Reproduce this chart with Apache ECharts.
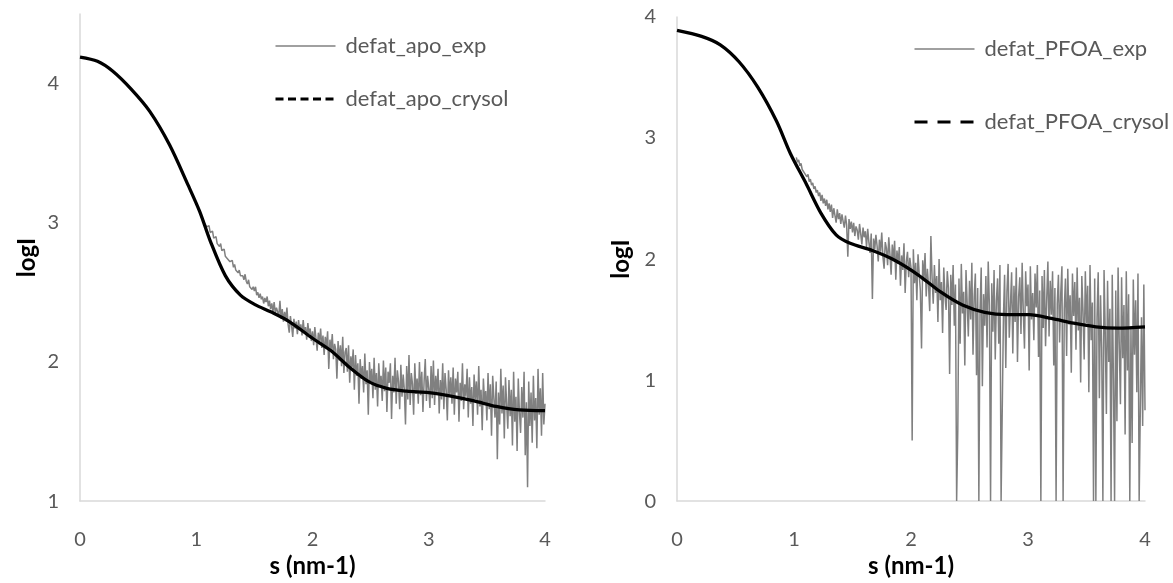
<!DOCTYPE html>
<html>
<head>
<meta charset="utf-8">
<script src="https://cdn.jsdelivr.net/npm/echarts@6/dist/echarts.min.js"></script>
<style>
html,body{margin:0;padding:0;background:#fff;}
#chart{width:1173px;height:583px;}
</style>
</head>
<body>
<div id="chart"></div>
<script>
// ---- data ----
const xTicks = [0, 1, 2, 3, 4];
const leftYTicks = [1, 2, 3, 4];
const rightYTicks = [0, 1, 2, 3, 4];

const leftNames = ['defat_apo_exp', 'defat_apo_crysol'];
const rightNames = ['defat_PFOA_exp', 'defat_PFOA_crysol'];

// crysol fits (s, logI)
const leftCrysolS = [0, 0.15, 0.28, 0.44, 0.6, 0.77, 0.93, 1.03, 1.12, 1.25, 1.38, 1.51, 1.64, 1.8, 2.0, 2.16, 2.32, 2.48, 2.64, 2.81, 3.0, 3.19, 3.39, 3.58, 3.78, 4.0];
const leftCrysolY = [4.19, 4.16, 4.09, 3.96, 3.80, 3.56, 3.27, 3.08, 2.87, 2.62, 2.48, 2.41, 2.36, 2.29, 2.17, 2.08, 1.96, 1.86, 1.81, 1.79, 1.78, 1.755, 1.72, 1.68, 1.655, 1.65];

const rightCrysolS = [0, 0.21, 0.37, 0.53, 0.69, 0.85, 0.97, 1.10, 1.23, 1.36, 1.48, 1.67, 1.86, 2.06, 2.25, 2.44, 2.63, 2.82, 3.01, 3.20, 3.39, 3.58, 3.77, 4.0];
const rightCrysolY = [3.89, 3.84, 3.77, 3.63, 3.42, 3.14, 2.87, 2.63, 2.38, 2.20, 2.13, 2.07, 1.99, 1.87, 1.73, 1.62, 1.56, 1.54, 1.54, 1.51, 1.47, 1.44, 1.43, 1.44];

// experimental curves: uniformly sampled in s
const leftExpStart = 1.03, leftExpStep = 0.01;
const leftExpY = [
3.09,3.05,3.06,3.02,3.00,3.01,2.97,
2.96,2.98,2.93,2.92,2.94,2.89,2.88,2.90,2.85,2.84,
2.83,2.85,2.80,2.79,2.81,2.76,2.77,2.74,2.75,2.72,
2.71,2.73,2.68,2.70,2.66,2.67,2.64,2.66,2.62,2.63,
2.62,2.59,2.63,2.58,2.56,2.59,2.54,2.55,2.52,2.54,
2.51,2.54,2.48,2.50,2.46,2.49,2.45,2.47,2.42,2.46,
2.43,2.47,2.40,2.44,2.38,2.42,2.36,2.43,2.35,2.39,
2.40,2.33,2.44,2.31,2.38,2.29,2.36,2.30,2.39,2.27,
2.21,2.33,2.26,2.18,2.31,2.24,2.29,2.20,2.30,2.23,
2.27,2.19,2.30,2.21,2.25,2.16,2.28,2.20,2.24,2.15,
2.22,2.12,2.25,2.17,2.08,2.21,2.14,2.24,2.10,2.19,
2.05,2.18,2.11,2.22,1.95,2.16,2.08,2.20,2.02,2.13,
2.09,1.88,2.15,2.01,2.12,1.97,2.18,1.92,2.07,2.10,
1.93,2.12,1.85,2.04,1.96,2.09,1.80,2.05,1.90,1.99,
1.70,2.02,1.88,1.97,1.78,2.06,1.84,1.94,1.62,2.00,
1.86,1.95,1.74,2.03,1.80,1.92,1.68,1.99,1.83,1.90,
1.72,2.01,1.79,1.96,1.64,1.93,1.85,1.99,1.59,1.90,
1.78,2.03,1.70,1.94,1.86,1.66,1.98,1.75,1.91,1.80,
1.55,1.97,1.73,2.05,1.69,1.92,1.84,1.62,1.99,1.77,
1.88,1.70,2.00,1.76,1.93,1.64,1.86,2.02,1.72,1.90,
1.81,1.67,1.97,1.74,2.01,1.69,1.90,1.78,1.95,1.63,
1.87,1.73,1.99,1.66,1.92,1.80,1.58,1.94,1.75,1.89,
1.70,1.96,1.62,1.88,1.78,1.93,1.57,1.85,1.72,1.99,
1.66,1.84,1.75,1.95,1.60,1.89,1.70,1.82,1.54,1.91,
1.73,1.86,1.62,1.97,1.68,1.80,1.51,1.88,1.71,1.79,
1.58,1.92,1.66,1.84,1.47,1.90,1.74,1.60,1.86,1.30,
1.78,1.55,1.95,1.63,1.83,1.45,1.89,1.70,1.52,1.87,
1.61,1.80,1.40,1.93,1.57,1.75,1.36,1.88,1.64,1.49,
1.82,1.60,1.93,1.33,1.71,1.10,1.86,1.54,1.78,1.42,
1.90,1.58,1.74,1.38,1.95,1.62,1.81,1.47,1.92,1.55,
1.70
];

const rightExpStart = 1.02, rightExpStep = 0.01;
const rightExpY = [
2.84,2.80,2.82,2.77,2.79,2.74,2.75,2.71,
2.72,2.68,2.70,2.64,2.66,2.61,2.63,2.58,2.60,2.55,
2.57,2.52,2.55,2.48,2.53,2.46,2.50,2.44,2.49,2.41,
2.46,2.39,2.45,2.34,2.42,2.36,2.30,2.41,2.33,2.38,
2.29,2.37,2.31,2.26,2.36,2.28,2.02,2.33,2.25,2.31,
2.22,2.30,2.19,2.27,2.24,2.16,2.29,2.21,2.12,2.26,
2.18,2.23,2.10,2.25,2.14,2.05,2.21,1.67,2.17,2.08,
2.20,2.11,1.98,2.16,2.06,2.22,2.02,1.92,2.14,2.09,
1.95,2.18,2.04,1.87,2.12,1.99,2.15,1.83,2.07,1.96,
2.10,1.78,2.03,1.91,2.13,1.72,1.98,2.06,1.85,2.01,
1.93,0.50,2.08,1.80,1.97,1.66,2.04,1.88,1.74,1.26,
1.99,1.83,2.05,1.69,1.92,1.78,1.57,2.19,1.85,1.63,
1.95,1.72,1.86,1.48,2.00,1.66,1.81,1.39,1.93,1.70,
1.58,1.90,1.76,1.05,1.87,1.62,1.95,1.45,1.79,0.00,
0.59,1.84,1.30,1.96,1.55,1.73,1.12,1.91,1.64,1.36,
1.82,1.50,1.97,1.21,1.69,1.88,1.04,1.76,0.00,1.58,
1.93,0.95,1.71,1.45,1.86,1.27,1.98,1.62,0.00,1.80,
1.40,1.91,1.17,1.66,1.84,1.30,1.95,0.00,0.00,1.52,
1.87,1.10,1.73,1.96,1.35,1.62,1.89,1.22,1.78,1.48,
1.93,1.15,1.69,1.85,1.38,1.97,1.56,1.26,1.90,1.61,
1.79,1.08,1.94,1.50,1.72,1.33,1.88,1.60,1.95,1.19,
1.74,0.00,1.86,1.43,1.91,1.28,1.67,1.98,1.36,1.82,
1.54,1.90,1.12,1.76,0.00,1.63,1.87,1.31,1.72,1.94,
0.00,1.59,1.84,1.20,1.92,1.46,1.70,1.06,1.88,1.53,
1.81,1.25,1.93,1.41,1.68,0.98,1.86,1.57,1.17,1.90,
1.47,1.78,0.90,1.95,1.33,1.64,0.00,1.84,0.00,1.52,
1.89,0.85,1.70,1.27,0.00,1.91,1.40,0.72,1.82,1.15,
1.59,0.00,1.87,1.02,0.00,1.74,0.66,1.93,1.30,0.80,
1.85,1.18,1.62,0.55,1.90,1.08,1.71,0.00,1.44,0.48,
1.83,1.21,1.66,0.90,1.88,0.00,0.00,1.52,0.62,1.79,
0.75
];

// ---- build series data ----
function pairs(xs, ys) { return ys.map((y, i) => [xs[i], y]); }
function sampled(start, step, ys) { return ys.map((y, i) => [+(start + i * step).toFixed(3), y]); }

const FONT = 'Lato, "Open Sans", sans-serif';
const GREY_TXT = '#595959';
const AXIS_COL = '#d9d9d9';
const EXP_COL = '#808080';

function xAxisCfg(grid) {
  return {
    gridIndex: grid, type: 'value', min: xTicks[0], max: xTicks[xTicks.length - 1], interval: 1,
    axisLine: { show: true, onZero: false, lineStyle: { color: AXIS_COL, width: 1.5 } },
    axisTick: { show: false }, splitLine: { show: false },
    axisLabel: { color: GREY_TXT, fontSize: 20, fontFamily: FONT, margin: 28 },
    name: 's (nm-1)', nameLocation: 'middle', nameGap: 52,
    nameTextStyle: { color: '#000', fontSize: 24, fontWeight: 'bold', fontFamily: FONT }
  };
}
function yAxisCfg(grid, ticks, max, gap) {
  return {
    gridIndex: grid, type: 'value', min: ticks[0], max: max, interval: 1,
    axisLine: { show: true, onZero: false, lineStyle: { color: AXIS_COL, width: 1.5 } },
    axisTick: { show: false }, splitLine: { show: false },
    axisLabel: { color: GREY_TXT, fontSize: 20, fontFamily: FONT, margin: 21, padding: [10, 0, 0, 0],
      formatter: v => (ticks.indexOf(v) >= 0 ? String(v) : '') },
    name: 'logI', nameLocation: 'middle', nameGap: gap, nameRotate: 90,
    nameTextStyle: { color: '#000', fontSize: 24, fontWeight: 'bold', fontFamily: FONT }
  };
}
const noSymbol = { opacity: 0, color: 'transparent', borderWidth: 0 };

const chart = echarts.init(document.getElementById('chart'), null, { renderer: 'canvas' });
chart.setOption({
  animation: false,
  backgroundColor: '#fff',
  grid: [
    { left: 80, top: 14, width: 465, height: 494 },
    { left: 677, top: 17, width: 468, height: 491 }
  ],
  xAxis: [xAxisCfg(0), xAxisCfg(1)],
  yAxis: [yAxisCfg(0, leftYTicks, 4.5, 41), yAxisCfg(1, rightYTicks, 4, 44)],
  legend: [
    {
      left: 269, top: 30, orient: 'vertical', itemWidth: 60, itemHeight: 14, itemGap: 31,
      textStyle: { color: GREY_TXT, fontSize: 22, fontFamily: FONT, padding: [0, 0, 0, 5] },
      data: [
        { name: leftNames[0], itemStyle: noSymbol, lineStyle: { color: EXP_COL, width: 1.3 } },
        { name: leftNames[1], itemStyle: noSymbol, lineStyle: { type: [8, 4.5], width: 3, color: '#000' } }
      ]
    },
    {
      left: 908, top: 33, orient: 'vertical', itemWidth: 60, itemHeight: 14, itemGap: 51,
      textStyle: { color: GREY_TXT, fontSize: 22, fontFamily: FONT, padding: [0, 0, 0, 5] },
      data: [
        { name: rightNames[0], itemStyle: noSymbol, lineStyle: { color: EXP_COL, width: 1.3 } },
        { name: rightNames[1], itemStyle: noSymbol, lineStyle: { type: [13, 10], width: 3, color: '#000' } }
      ]
    }
  ],
  series: [
    { name: leftNames[0], type: 'line', xAxisIndex: 0, yAxisIndex: 0, symbol: 'none', showSymbol: false,
      data: sampled(leftExpStart, leftExpStep, leftExpY),
      lineStyle: { color: EXP_COL, width: 1.5 }, itemStyle: { color: EXP_COL }, z: 2 },
    { name: leftNames[1], type: 'line', xAxisIndex: 0, yAxisIndex: 0, symbol: 'none', showSymbol: false,
      smooth: 0.3,
      data: pairs(leftCrysolS, leftCrysolY),
      lineStyle: { color: '#000', width: 3.3 }, itemStyle: { color: '#000' }, z: 3 },
    { name: rightNames[0], type: 'line', xAxisIndex: 1, yAxisIndex: 1, symbol: 'none', showSymbol: false,
      data: sampled(rightExpStart, rightExpStep, rightExpY),
      lineStyle: { color: EXP_COL, width: 1.5 }, itemStyle: { color: EXP_COL }, z: 2 },
    { name: rightNames[1], type: 'line', xAxisIndex: 1, yAxisIndex: 1, symbol: 'none', showSymbol: false,
      smooth: 0.3,
      data: pairs(rightCrysolS, rightCrysolY),
      lineStyle: { color: '#000', width: 3.3 }, itemStyle: { color: '#000' }, z: 3 }
  ]
});
</script>
</body>
</html>
